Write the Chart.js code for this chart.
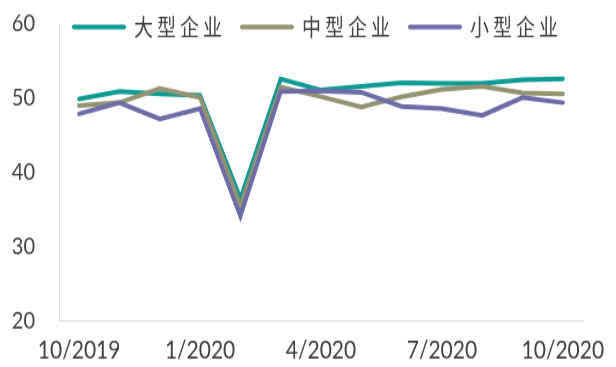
<!DOCTYPE html>
<html>
<head>
<meta charset="utf-8">
<script src="https://cdn.jsdelivr.net/npm/chart.js@4/dist/chart.umd.min.js"></script>
<style>
  html, body { margin: 0; padding: 0; background: #fff; overflow: hidden; }
  #wrap { width: 616px; height: 367px; overflow: hidden; }
  /* the chart is drawn on a shorter canvas and stretched vertically */
  #c { display: block; transform: scaleY(1.1993); transform-origin: 0 0; }
</style>
</head>
<body>
<div id="wrap"><canvas id="c" width="616" height="306"></canvas></div>
<script>
// Months, Oct 2019 – Oct 2020
const months = ['10/2019', '11/2019', '12/2019', '1/2020', '2/2020', '3/2020', '4/2020',
                '5/2020', '6/2020', '7/2020', '8/2020', '9/2020', '10/2020'];

// PMI by enterprise size
const large  = [49.9, 50.9, 50.6, 50.4, 36.5, 52.6, 51.1, 51.6, 52.1, 52.0, 52.0, 52.5, 52.6];
const medium = [49.0, 49.4, 51.3, 50.1, 35.5, 51.5, 50.2, 48.8, 50.2, 51.2, 51.6, 50.7, 50.6];
const small  = [47.9, 49.4, 47.2, 48.6, 34.1, 50.9, 51.0, 50.8, 48.9, 48.6, 47.7, 50.1, 49.4];

const seriesNames = ['大型企业', '中型企业', '小型企业'];
const seriesColors = ['#0f9a94', '#939372', '#6d6ba8'];
const yTicks = [20, 30, 40, 50, 60];

const textColor = '#404040';
const axisColor = '#d9d9d9';

// Legend drawn across the top of the plot, line sample followed by spaced label
const topLegend = {
  id: 'topLegend',
  afterDraw(chart) {
    const ctx = chart.ctx;
    const y = 22.5;
    let x = 73;
    ctx.save();
    chart.data.datasets.forEach(ds => {
      ctx.strokeStyle = ds.borderColor;
      ctx.lineWidth = 4;
      ctx.lineCap = 'round';
      ctx.beginPath();
      ctx.moveTo(x + 1, y);
      ctx.lineTo(x + 51, y);
      ctx.stroke();
      ctx.font = '19px "Noto Sans CJK SC"';
      ctx.letterSpacing = '4px';
      ctx.fillStyle = textColor;
      ctx.textBaseline = 'middle';
      ctx.textAlign = 'left';
      ctx.fillText(ds.label, x + 61, y + 0.5);
      const w = ctx.measureText(ds.label).width;
      x += 61 + w + 15;
    });
    ctx.restore();
  }
};

new Chart(document.getElementById('c'), {
  type: 'line',
  data: {
    labels: months,
    datasets: [
      { label: seriesNames[0], data: large,  borderColor: seriesColors[0], order: 3 },
      { label: seriesNames[1], data: medium, borderColor: seriesColors[1], order: 2 },
      { label: seriesNames[2], data: small,  borderColor: seriesColors[2], order: 1 }
    ].map(d => Object.assign(d, {
      backgroundColor: d.borderColor,
      borderWidth: 4,
      pointRadius: 0,
      tension: 0,
      fill: false,
      borderCapStyle: 'round',
      borderJoinStyle: 'miter'
    }))
  },
  options: {
    responsive: false,
    animation: false,
    devicePixelRatio: 1,
    layout: { padding: { top: 20, right: 33, left: 0, bottom: 0 } },
    plugins: {
      legend: { display: false },
      tooltip: { enabled: false }
    },
    scales: {
      x: {
        offset: true,
        grid: { color: 'rgba(0,0,0,0)', drawTicks: false },
        border: { display: true, color: axisColor, width: 1 },
        ticks: {
          autoSkip: false,
          maxRotation: 0,
          padding: 12,
          color: textColor,
          font: { family: 'Lato', size: 21 },
          callback: (v, i) => (i % 3 === 0 ? months[i] : '')
        },
        afterFit: s => { s.height = 38.4; s.paddingLeft = 0; s.paddingRight = 0; }
      },
      y: {
        min: yTicks[0],
        max: yTicks[yTicks.length - 1],
        afterBuildTicks: s => { s.ticks = yTicks.map(v => ({ value: v })); },
        grid: { color: 'rgba(0,0,0,0)', drawTicks: false },
        border: { display: true, color: axisColor, width: 1 },
        ticks: {
          padding: 24,
          color: textColor,
          font: { family: 'Lato', size: 20 }
        },
        afterFit: s => { s.width = 59; s.paddingTop = 0; s.paddingBottom = 0; }
      }
    }
  },
  plugins: [topLegend]
});
</script>
</body>
</html>
